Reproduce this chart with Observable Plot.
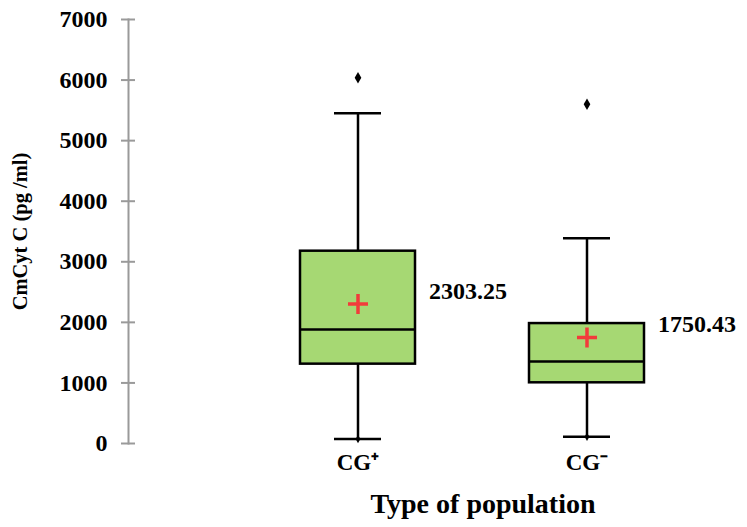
<!DOCTYPE html>
<html>
<head>
<meta charset="utf-8">
<script src="https://cdn.jsdelivr.net/npm/d3@7"></script>
<script src="https://cdn.jsdelivr.net/npm/@observablehq/plot@0.6"></script>
<style>
  html, body { margin: 0; padding: 0; background: #ffffff; }
</style>
</head>
<body>
<div id="chart"></div>
<script>
const categories = ["CG\u207A", "CG\u207B"];
const q1Values = [1310, 1002];
const medianValues = [1881, 1353];
const q3Values = [3175, 1980];
const whiskerLow = [73, 110];
const whiskerHigh = [5452, 3390];
const outlierValues = [6040, 5600];
const meanValues = [2303.25, 1750.43];
const yTicks = [0, 1000, 2000, 3000, 4000, 5000, 6000, 7000];

const boxes = categories.map((cat, i) => ({
  cat,
  q1: q1Values[i],
  median: medianValues[i],
  q3: q3Values[i],
  lo: whiskerLow[i],
  hi: whiskerHigh[i],
  outlier: outlierValues[i],
  mean: meanValues[i]
}));

const green = "#a6d873";
const sw = 2.5;

const chart = Plot.plot({
  width: 747,
  height: 527,
  marginLeft: 128,
  marginRight: 0,
  marginTop: 19,
  marginBottom: 84,
  style: {
    fontFamily: "'Liberation Serif', 'Times New Roman', serif",
    fontWeight: "bold",
    background: "#ffffff",
    color: "#000000"
  },
  x: { type: "band", domain: categories, range: [185, 757.5], padding: 0.5 },
  y: { domain: [0, 7000] },
  marks: [
    Plot.frame({ anchor: "left", stroke: "#9a9a9a", strokeWidth: 2 }),
    Plot.axisY({
      ticks: yTicks, tickSize: 14, dx: 7, tickPadding: 14,
      stroke: "#9a9a9a", strokeWidth: 2, fill: "#000000",
      fontSize: 24, tickFormat: d => String(d), label: null
    }),
    Plot.axisY({
      ticks: [], label: "CmCyt C (pg /ml)", labelAnchor: "center", labelArrow: "none",
      labelOffset: 116, fontSize: 20.5, fill: "#000000"
    }),
    Plot.axisX({ tickSize: 0, tickPadding: 10, fontSize: 23, fill: "#000000", label: null }),
    Plot.ruleX(boxes, { x: "cat", y1: "q3", y2: "hi", stroke: "#000", strokeWidth: sw }),
    Plot.ruleX(boxes, { x: "cat", y1: "lo", y2: "q1", stroke: "#000", strokeWidth: sw }),
    Plot.tickY(boxes, { x: "cat", y: "hi", stroke: "#000", strokeWidth: sw, inset: 34 }),
    Plot.tickY(boxes, { x: "cat", y: "lo", stroke: "#000", strokeWidth: sw, inset: 34 }),
    Plot.barY(boxes, { x: "cat", y1: "q1", y2: "q3", fill: green, stroke: "#000", strokeWidth: sw }),
    Plot.tickY(boxes, { x: "cat", y: "median", stroke: "#000", strokeWidth: sw }),
    Plot.dot(boxes, { x: "cat", y: "outlier", symbol: "diamond", fill: "#000", r: 3.5 }),
    Plot.dot(boxes, { x: "cat", y: "lo", symbol: "diamond", fill: "#000", r: 2.5 }),
    Plot.dot(boxes, { x: "cat", y: "mean", symbol: "plus", stroke: "#f23b3b", strokeWidth: 3.5, r: 6.5 }),
    Plot.text(boxes, {
      x: "cat", y: "mean", text: d => d.mean.toFixed(2),
      textAnchor: "start", dx: 71, dy: -13, fontSize: 24, fill: "#000"
    }),
    Plot.text(["Type of population"], {
      frameAnchor: "bottom", dx: 45, dy: 69, fontSize: 28, fill: "#000"
    })
  ]
});

document.getElementById("chart").appendChild(chart);
</script>
</body>
</html>
